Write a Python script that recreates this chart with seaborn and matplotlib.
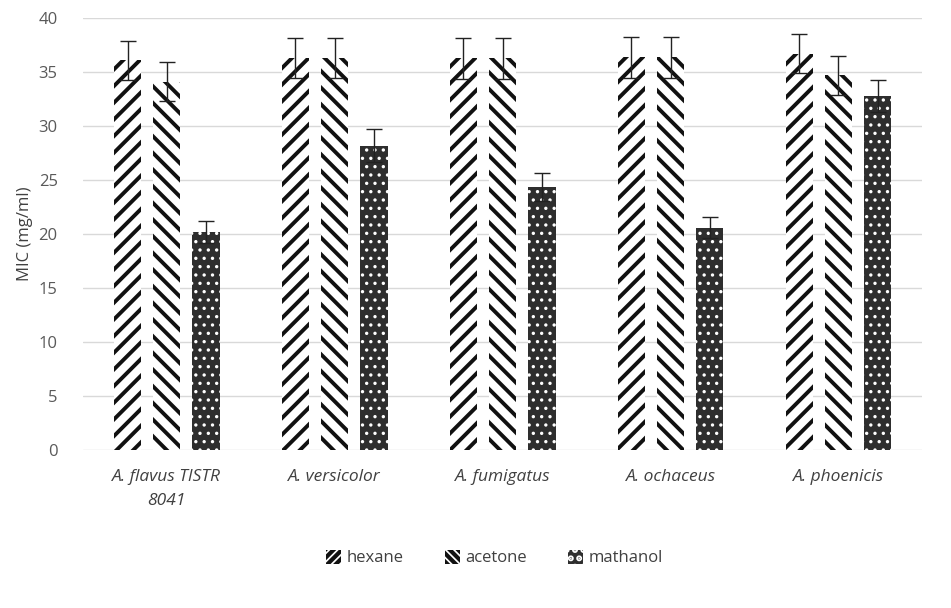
import matplotlib
matplotlib.use('Agg')
import matplotlib.pyplot as plt
import matplotlib.patches as mpatches
import numpy as np
import pandas as pd
import seaborn as sns

# values
strains = ['A. flavus TISTR\n8041', 'A. versicolor', 'A. fumigatus', 'A. ochaceus', 'A. phoenicis']
solvents = ['hexane', 'acetone', 'mathanol']
hexane = [36.1, 36.3, 36.3, 36.4, 36.7]
acetone = [34.1, 36.3, 36.3, 36.4, 34.7]
methanol = [20.2, 28.2, 24.4, 20.6, 32.8]
hexane_err = [1.8, 1.85, 1.9, 1.9, 1.8]
acetone_err = [1.8, 1.85, 1.9, 1.9, 1.8]
methanol_err = [1.0, 1.5, 1.3, 0.95, 1.5]

df = pd.DataFrame({
    'strain': strains * 3,
    'solvent': np.repeat(solvents, len(strains)),
    'mic': hexane + acetone + methanol,
    'err': hexane_err + acetone_err + methanol_err,
})

sns.set_style('white')
plt.rcParams['font.family'] = ['Open Sans', 'DejaVu Sans']
plt.rcParams['hatch.linewidth'] = 3.0

fig = plt.figure(figsize=(9.51, 6.08), dpi=100)
ax = fig.add_axes([0.087, 0.26, 0.883, 0.71])

face = {'hexane': 'white', 'acetone': 'white', 'mathanol': '#2e2e2e'}
hatch = {'hexane': '//', 'acetone': '\\\\', 'mathanol': '..'}
hcol = {'hexane': '#111111', 'acetone': '#111111', 'mathanol': 'white'}

sns.barplot(data=df, x='strain', y='mic', hue='solvent', palette=face,
            width=0.7, gap=0.3, ax=ax, legend=False, errorbar=None,
            saturation=1)

bars = [p for p in ax.patches if isinstance(p, mpatches.Rectangle)]
for i, p in enumerate(bars):
    s = solvents[i // len(strains)]
    p.set_hatch(hatch[s])
    p.set_edgecolor(hcol[s])
    p.set_linewidth(0)
    if hasattr(p, 'set_hatch_linewidth'):
        p.set_hatch_linewidth(2.8 if s != 'mathanol' else 1.2)

xs = [p.get_x() + p.get_width() / 2 for p in bars]
ax.errorbar(xs, df['mic'], yerr=df['err'], fmt='none', ecolor='#222222',
            elinewidth=1.0, capsize=6, capthick=1.0, zorder=5)

ax.set_ylim(0, 40)
ax.set_yticks(range(0, 41, 5))
ax.set_xlim(-0.5, 4.5)
ax.yaxis.grid(True, color='#d9d9d9', linewidth=1)
ax.set_axisbelow(True)
for sp in ax.spines.values():
    sp.set_visible(False)
ax.tick_params(axis='y', length=0, pad=18, labelsize=12, labelcolor='#595959')
ax.tick_params(axis='x', length=0, pad=14, labelsize=12.5, labelcolor='#404040')
for t in ax.get_xticklabels():
    t.set_fontstyle('italic')
    t.set_linespacing(1.6)
ax.set_xlabel('')
ax.set_ylabel('MIC (mg/ml)', fontsize=12, color='#404040', labelpad=4)

leg_hatch = {'hexane': '////', 'acetone': '\\\\\\\\', 'mathanol': '..'}
handles = []
for s in solvents:
    h = mpatches.Patch(facecolor=face[s], edgecolor=hcol[s], hatch=leg_hatch[s], linewidth=0, label=s)
    handles.append(h)
fig.legend(handles=handles, loc='center', bbox_to_anchor=(0.52, 0.082), ncol=3,
           frameon=False, fontsize=12, handlelength=0.9, handleheight=0.9,
           handletextpad=0.3, columnspacing=2.5, labelcolor='#404040')

fig.savefig('out.png', dpi=100)
